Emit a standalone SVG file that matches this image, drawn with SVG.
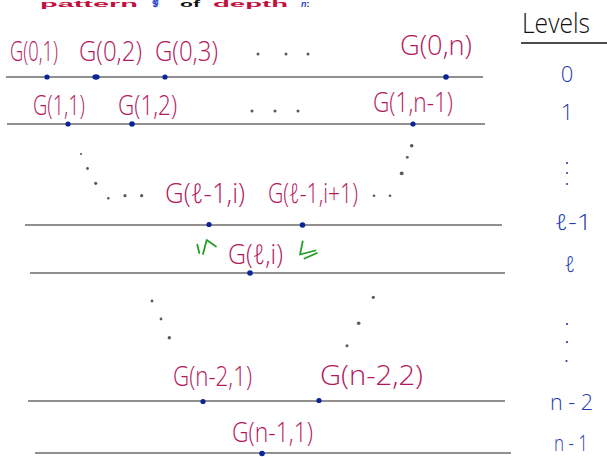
<svg xmlns="http://www.w3.org/2000/svg" width="607" height="457" viewBox="0 0 607 457">
<style>
.bg{fill:#ffffff}
.ln{stroke:#6b6b6b;stroke-width:1.6;fill:none}
.pt{fill:#0b2499}
.gd{fill:#5a5a5a}
.lab{font-family:"Open Sans","DejaVu Sans",sans-serif;font-weight:300;font-size:27px;fill:#b3175c}
.lvl{font-family:"Open Sans","DejaVu Sans",sans-serif;font-weight:300;font-size:22px;fill:#1f3bb0}
.lvh{font-family:"Open Sans","DejaVu Sans",sans-serif;font-weight:300;font-size:27px;fill:#111}
.bd{fill:#1f3bb0}
.hd{font-family:"Liberation Sans",Arial,sans-serif;font-weight:bold;font-size:9px}
.gr{stroke:#23a023;stroke-width:1.8;fill:none;stroke-linecap:round;stroke-linejoin:round}
</style>
<rect class="bg" x="0" y="0" width="607" height="457"/>
<g id="header">
<text class="hd" y="7"><tspan fill="#c0103f" x="40" textLength="98" lengthAdjust="spacingAndGlyphs">pattern</tspan><tspan fill="#2a46d8" x="152">𝒢</tspan><tspan fill="#111" x="180" textLength="20" lengthAdjust="spacingAndGlyphs">of</tspan><tspan fill="#c0103f" x="213" textLength="75" lengthAdjust="spacingAndGlyphs">depth</tspan><tspan fill="#2a46d8" font-style="italic" x="301">n</tspan><tspan fill="#111">:</tspan></text>
</g>
<g id="connectors">
<line class="ln" x1="6" y1="77" x2="483" y2="77"/>
<line class="ln" x1="7" y1="124" x2="485" y2="124"/>
<line class="ln" x1="25" y1="225" x2="502" y2="225"/>
<line class="ln" x1="30" y1="273" x2="505" y2="273"/>
<line class="ln" x1="28" y1="401" x2="505" y2="401"/>
<line class="ln" x1="35" y1="453" x2="511" y2="453"/>
</g>
<g id="ellipsis-dots">
<circle class="gd" cx="258" cy="54" r="1.5"/><circle class="gd" cx="286" cy="54" r="1.5"/><circle class="gd" cx="308" cy="54" r="1.5"/>
<circle class="gd" cx="252" cy="111" r="1.5"/><circle class="gd" cx="275" cy="111" r="1.5"/><circle class="gd" cx="298" cy="111" r="1.5"/>
<circle class="gd" cx="81" cy="154" r="1.1"/><circle class="gd" cx="87.5" cy="168.5" r="1.4"/><circle class="gd" cx="95.7" cy="183.3" r="1.6"/><circle class="gd" cx="108.3" cy="198.3" r="1.3"/><circle class="gd" cx="125" cy="195.7" r="1.6"/><circle class="gd" cx="141.7" cy="195.7" r="1.6"/>
<circle class="gd" cx="411.7" cy="145.7" r="1.8"/><circle class="gd" cx="407.3" cy="157.3" r="1.4"/><circle class="gd" cx="401.7" cy="173.3" r="1.9"/><circle class="gd" cx="374" cy="195.7" r="1.3"/><circle class="gd" cx="390" cy="195.7" r="1.3"/>
<circle class="gd" cx="152" cy="301" r="1.4"/><circle class="gd" cx="161" cy="319" r="1.4"/><circle class="gd" cx="169.3" cy="337.7" r="1.7"/>
<circle class="gd" cx="373.3" cy="297.3" r="1.6"/><circle class="gd" cx="358.7" cy="323.3" r="1.8"/><circle class="gd" cx="347" cy="345.7" r="1.5"/>
</g>
<g id="arrows">
<path class="gr" d="M197.3 244.7 L199.3 253"/>
<path class="gr" d="M203 254 L206.7 240 L216 246.5"/>
<path class="gr" d="M302.7 241.5 L300 254.5 L315.5 250.5"/>
<path class="gr" d="M304.5 258.5 L317 253"/>
</g>
<g id="n01"><circle class="pt" cx="47" cy="77" r="2.6"/><text class="lab" x="10" y="61" textLength="48" lengthAdjust="spacingAndGlyphs">G(0,1)</text></g>
<g id="n02"><ellipse class="pt" cx="96" cy="77" rx="3.6" ry="2.8"/><text class="lab" x="79" y="61" textLength="63" lengthAdjust="spacingAndGlyphs">G(0,2)</text></g>
<g id="n03"><circle class="pt" cx="165" cy="77" r="2.6"/><text class="lab" x="155" y="61" textLength="63" lengthAdjust="spacingAndGlyphs">G(0,3)</text></g>
<g id="n0n"><circle class="pt" cx="446" cy="77" r="2.8"/><text class="lab" x="400" y="55" textLength="72" lengthAdjust="spacingAndGlyphs">G(0,n)</text></g>
<g id="n11"><circle class="pt" cx="68" cy="124" r="2.6"/><text class="lab" x="33" y="115" textLength="52" lengthAdjust="spacingAndGlyphs">G(1,1)</text></g>
<g id="n12"><circle class="pt" cx="132" cy="124" r="2.8"/><text class="lab" x="118" y="115" textLength="59" lengthAdjust="spacingAndGlyphs">G(1,2)</text></g>
<g id="n1n"><circle class="pt" cx="413" cy="124" r="2.6"/><text class="lab" x="373" y="112" textLength="80" lengthAdjust="spacingAndGlyphs">G(1,n-1)</text></g>
<g id="nl1i"><circle class="pt" cx="209" cy="224.5" r="2.6"/><text class="lab" x="165" y="203" textLength="80" lengthAdjust="spacingAndGlyphs">G(ℓ-1,i)</text></g>
<g id="nl1i1"><circle class="pt" cx="302.5" cy="225" r="2.8"/><text class="lab" x="268" y="203" textLength="90" lengthAdjust="spacingAndGlyphs">G(ℓ-1,i+1)</text></g>
<g id="nli"><circle class="pt" cx="250" cy="273" r="2.8"/><text class="lab" x="228" y="264" textLength="55" lengthAdjust="spacingAndGlyphs">G(ℓ,i)</text></g>
<g id="nn21"><circle class="pt" cx="203" cy="401.5" r="2.6"/><text class="lab" x="173" y="386" textLength="79" lengthAdjust="spacingAndGlyphs">G(n-2,1)</text></g>
<g id="nn22"><circle class="pt" cx="319" cy="400.5" r="2.6"/><text class="lab" x="320" y="385" textLength="103" lengthAdjust="spacingAndGlyphs">G(n-2,2)</text></g>
<g id="nn11"><circle class="pt" cx="262" cy="453.5" r="2.8"/><text class="lab" x="232" y="442" textLength="81" lengthAdjust="spacingAndGlyphs">G(n-1,1)</text></g>
<g id="levels">
<text class="lvh" x="522" y="33" textLength="68" lengthAdjust="spacingAndGlyphs">Levels</text>
<line x1="521" y1="43" x2="607" y2="43" stroke="#111" stroke-width="1.5"/>
<text class="lvl" x="567" y="82" text-anchor="middle">0</text>
<text class="lvl" x="567" y="120" text-anchor="middle">1</text>
<circle class="bd" cx="567" cy="163" r="1.1"/><circle class="bd" cx="567" cy="173" r="1"/><circle class="bd" cx="567" cy="184" r="1"/>
<text class="lvl" x="555" y="230" font-size="26" textLength="37" lengthAdjust="spacingAndGlyphs">ℓ-1</text>
<text class="lvl" x="570" y="272" font-size="28" text-anchor="middle">ℓ</text>
<circle class="bd" cx="567" cy="324" r="1.1"/><circle class="bd" cx="567" cy="342" r="1.1"/><circle class="bd" cx="566.5" cy="361" r="1.1"/>
<text class="lvl" x="550" y="410" textLength="43" lengthAdjust="spacingAndGlyphs">n - 2</text>
<text class="lvl" x="554" y="451" font-size="20" textLength="34" lengthAdjust="spacingAndGlyphs">n - 1</text>
</g>
</svg>
